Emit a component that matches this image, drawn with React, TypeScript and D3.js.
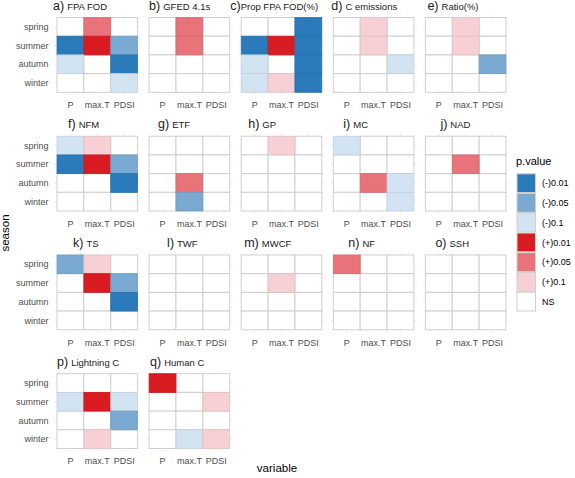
import React from "react";
import * as d3 from "d3";

const seasons = ["spring", "summer", "autumn", "winter"];
const variables = ["P", "max.T", "PDSI"];
const pLevels = ["(-)0.01", "(-)0.05", "(-)0.1", "(+)0.01", "(+)0.05", "(+)0.1", "NS"];
const pColors = ["#2b7bba", "#7aa9d1", "#d2e3f1", "#d91c21", "#e8737a", "#f6d0d4", "#ffffff"];

const N1 = "(-)0.01", N5 = "(-)0.05", N10 = "(-)0.1";
const P1 = "(+)0.01", P5 = "(+)0.05", P10 = "(+)0.1", NS = "NS";

const panelLetters = ["a)", "b)", "c)", "d)", "e)", "f)", "g)", "h)", "i)", "j)", "k)", "l)", "m)", "n)", "o)", "p)", "q)"];
const panelNames = ["FPA FOD", "GFED 4.1s", "Prop FPA FOD(%)", "C emissions", "Ratio(%)", "NFM", "ETF", "GP", "MC", "NAD", "TS", "TWF", "MWCF", "NF", "SSH", "Lightning C", "Human C"];

// rows: spring, summer, autumn, winter; columns: P, max.T, PDSI
const fpaFod = [[NS, P5, NS], [N1, P1, N5], [N10, NS, N1], [NS, NS, N10]];
const gfed = [[NS, P5, NS], [NS, P5, NS], [NS, NS, NS], [NS, NS, NS]];
const propFpaFod = [[NS, NS, N1], [N1, P1, N1], [N10, NS, N1], [N10, P10, N1]];
const cEmissions = [[NS, P10, NS], [NS, P10, NS], [NS, NS, N10], [NS, NS, NS]];
const ratio = [[NS, P10, NS], [NS, P10, NS], [NS, NS, N5], [NS, NS, NS]];
const nfm = [[N10, P10, NS], [N1, P1, N5], [NS, NS, N1], [NS, NS, NS]];
const etf = [[NS, NS, NS], [NS, NS, NS], [NS, P5, NS], [NS, N5, NS]];
const gp = [[NS, P10, NS], [NS, NS, NS], [NS, NS, NS], [NS, NS, NS]];
const mc = [[N10, NS, NS], [NS, NS, NS], [NS, P5, N10], [NS, NS, N10]];
const nad = [[NS, NS, NS], [NS, P5, NS], [NS, NS, NS], [NS, NS, NS]];
const ts = [[N5, P10, NS], [NS, P1, N5], [NS, NS, N1], [NS, NS, NS]];
const twf = [[NS, NS, NS], [NS, NS, NS], [NS, NS, NS], [NS, NS, NS]];
const mwcf = [[NS, NS, NS], [NS, P10, NS], [NS, NS, NS], [NS, NS, NS]];
const nf = [[P5, NS, NS], [NS, NS, NS], [NS, NS, NS], [NS, NS, NS]];
const ssh = [[NS, NS, NS], [NS, NS, NS], [NS, NS, NS], [NS, NS, NS]];
const lightningC = [[NS, NS, NS], [N10, P1, N10], [NS, NS, N5], [NS, P10, NS]];
const humanC = [[P1, NS, NS], [NS, NS, P10], [NS, NS, NS], [NS, N10, P10]];

const panelValues = [fpaFod, gfed, propFpaFod, cEmissions, ratio, nfm, etf, gp, mc, nad, ts, twf, mwcf, nf, ssh, lightningC, humanC];

// layout (title horizontal offsets relative to panel left)
const titleDx = [-4, 0, -11, -2, 2, 11, 9, 7, 10, 15, 16, 18, 3, 15, 10, 0, 1];

const W = 575, H = 478;
const FONT = "'Liberation Sans', Arial, Helvetica, sans-serif";

export default function App() {
  const nCols = 5;
  const facetX = d3.scaleBand<number>().domain(d3.range(nCols)).range([57, 506]).paddingInner(0.125).paddingOuter(0);
  const facetY = d3.scaleBand<number>().domain(d3.range(4)).range([17.5, 448.5]).paddingInner(0.37).paddingOuter(0);
  const pw = facetX.bandwidth();
  const ph = facetY.bandwidth();
  const x = d3.scaleBand<string>().domain(variables).range([0, pw]);
  const y = d3.scaleBand<string>().domain(seasons).range([0, ph]);
  const color = d3.scaleOrdinal<string, string>().domain(pLevels).range(pColors);

  const legendY = d3.scaleBand<string>().domain(pLevels).range([173.3, 311.5]);

  return (
    <svg width={W} height={H} style={{ position: "absolute", left: 0, top: 0, background: "#fff" }} fontFamily={FONT}>
      {panelValues.map((vals, i) => {
        const col = i % nCols;
        const row = Math.floor(i / nCols);
        const px = facetX(col)!;
        const py = facetY(row)!;
        const cells: { s: string; v: string; p: string }[] = [];
        seasons.forEach((s, si) => variables.forEach((v, vi) => cells.push({ s, v, p: vals[si][vi] })));
        const white = cells.filter(c => c.p === NS);
        const colored = cells.filter(c => c.p !== NS);
        return (
          <g key={i} transform={`translate(${px},${py})`}>
            {variables.map(v => (
              <line key={"gx" + v} x1={x(v)! + x.bandwidth() / 2} x2={x(v)! + x.bandwidth() / 2} y1={-2.5} y2={ph + 2.5} stroke="#e6e6e6" strokeWidth={0.8} />
            ))}
            {seasons.map(s => (
              <line key={"gy" + s} y1={y(s)! + y.bandwidth() / 2} y2={y(s)! + y.bandwidth() / 2} x1={-2.5} x2={pw + 2.5} stroke="#e6e6e6" strokeWidth={0.8} />
            ))}
            {white.map(c => (
              <rect key={c.s + c.v} x={x(c.v)} y={y(c.s)} width={x.bandwidth()} height={y.bandwidth()} fill="#ffffff" stroke="#cfcfcf" strokeWidth={1} />
            ))}
            {colored.map(c => (
              <rect key={c.s + c.v} x={x(c.v)} y={y(c.s)} width={x.bandwidth()} height={y.bandwidth()} fill={color(c.p)} stroke={d3.color(color(c.p))!.darker(0.25).formatHex()} strokeWidth={0.8} />
            ))}
            <text x={titleDx[i]} y={-8} fill="#1a1a1a">
              <tspan fontSize={12.5}>{panelLetters[i]}</tspan>
              <tspan fontSize={9.5} dx={panelLetters[i] === "c)" ? 0 : 3}>{panelNames[i]}</tspan>
            </text>
            {variables.map(v => (
              <text key={"xl" + v} x={x(v)! + x.bandwidth() / 2} y={ph + 16} fontSize={9} fill="#4d4d4d" textAnchor="middle">{v}</text>
            ))}
            {col === 0 && seasons.map(s => (
              <text key={"yl" + s} x={-8.5} y={y(s)! + y.bandwidth() / 2} dy="0.35em" fontSize={9} fill="#4d4d4d" textAnchor="end">{s}</text>
            ))}
          </g>
        );
      })}

      <text x={277} y={472} fontSize={11.5} textAnchor="middle" fill="#000">variable</text>
      <text transform="translate(9,233) rotate(-90)" fontSize={11.5} textAnchor="middle" fill="#000">season</text>

      <text x={516} y={165} fontSize={11} fill="#000">p.value</text>
      {pLevels.map(l => (
        <g key={l}>
          <rect x={517} y={legendY(l)! + 0.5} width={18.5} height={legendY.bandwidth() - 1} fill={color(l)} stroke="#d0d0d0" strokeWidth={1} />
          <text x={542} y={legendY(l)! + legendY.bandwidth() / 2} dy="0.35em" fontSize={9} fill="#000">{l}</text>
        </g>
      ))}
    </svg>
  );
}
